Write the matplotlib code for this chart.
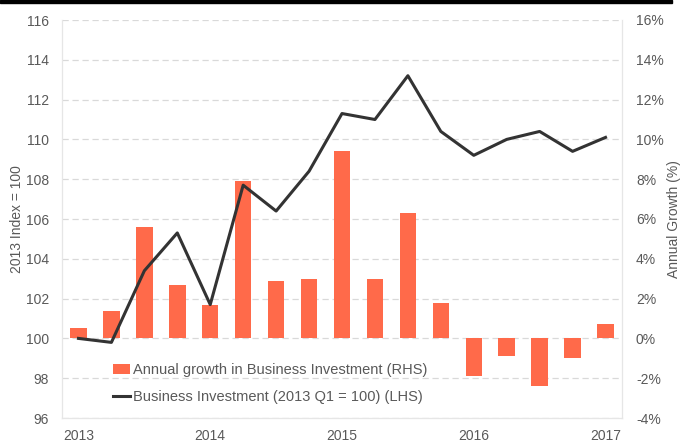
import matplotlib
matplotlib.use("Agg")
import matplotlib.pyplot as plt
from matplotlib.patches import Rectangle

plt.rcParams['font.family'] = ['Liberation Sans', 'DejaVu Sans']

quarters = ["2013 Q1", "2013 Q2", "2013 Q3", "2013 Q4",
            "2014 Q1", "2014 Q2", "2014 Q3", "2014 Q4",
            "2015 Q1", "2015 Q2", "2015 Q3", "2015 Q4",
            "2016 Q1", "2016 Q2", "2016 Q3", "2016 Q4",
            "2017 Q1"]
growth = [0.5, 1.4, 5.6, 2.7, 1.7, 7.9, 2.9, 3.0, 9.4, 3.0, 6.3, 1.8,
          -1.9, -0.9, -2.4, -1.0, 0.7]
index = [100.0, 99.8, 103.4, 105.3, 101.7, 107.7, 106.4, 108.4, 111.3, 111.0,
         113.2, 110.4, 109.2, 110.0, 110.4, 109.4, 110.1]
year_labels = ["2013", "2014", "2015", "2016", "2017"]

grey = "#595959"
orange = "#FF6A4A"

fig = plt.figure(figsize=(6.83, 4.46), dpi=100)
ax = fig.add_axes([62/683, 28/446, 560/683, 398/446])
ax2 = ax.twinx()

x = list(range(len(quarters)))
bars = ax2.bar(x, growth, width=0.5, color=orange, zorder=2,
               label="Annual growth in Business Investment (RHS)")
line, = ax.plot(x, index, color="#333333", lw=2.2, zorder=3,
                label="Business Investment (2013 Q1 = 100) (LHS)")
ax.set_zorder(ax2.get_zorder() + 1)
ax.patch.set_visible(False)

ax.set_xlim(-0.5, 16.5)
ax.set_ylim(96, 116)
ax.set_yticks(range(96, 117, 2))
ax2.set_ylim(-4, 16)
ax2.set_yticks(range(-4, 17, 2))
ax2.set_yticklabels([f"{v}%" for v in range(-4, 17, 2)])
ax.set_xticks([0, 4, 8, 12, 16])
ax.set_xticklabels(year_labels)

for a in (ax, ax2):
    a.tick_params(length=0, colors=grey, labelsize=10)
    for s in a.spines.values():
        s.set_color("#E6E6E6")
    a.spines['top'].set_visible(False)
ax.tick_params(axis='y', pad=9.5)
ax2.tick_params(axis='y', pad=10)
ax.tick_params(axis='x', pad=8)

ax2.yaxis.grid(True, color="#D9D9D9", ls=(0, (5, 3)), lw=0.9, zorder=0)
ax2.set_axisbelow(True)

ax.set_ylabel("2013 Index = 100", color=grey, fontsize=10, labelpad=1)
ax2.set_ylabel("Annual Growth (%)", color=grey, fontsize=10, labelpad=2)

leg = ax.legend([bars, line], [bars.get_label(), line.get_label()],
                loc="lower left", bbox_to_anchor=(0.08, 0.02), frameon=False,
                fontsize=10.5, handlelength=1.2, handletextpad=0.2,
                labelspacing=0.9, borderaxespad=0)
for t in leg.get_texts():
    t.set_color(grey)

fig.patches.append(Rectangle((0, 1 - 3/446), 672/683, 3/446, transform=fig.transFigure,
                             color="black", zorder=10))

fig.savefig("out.png", dpi=100)
